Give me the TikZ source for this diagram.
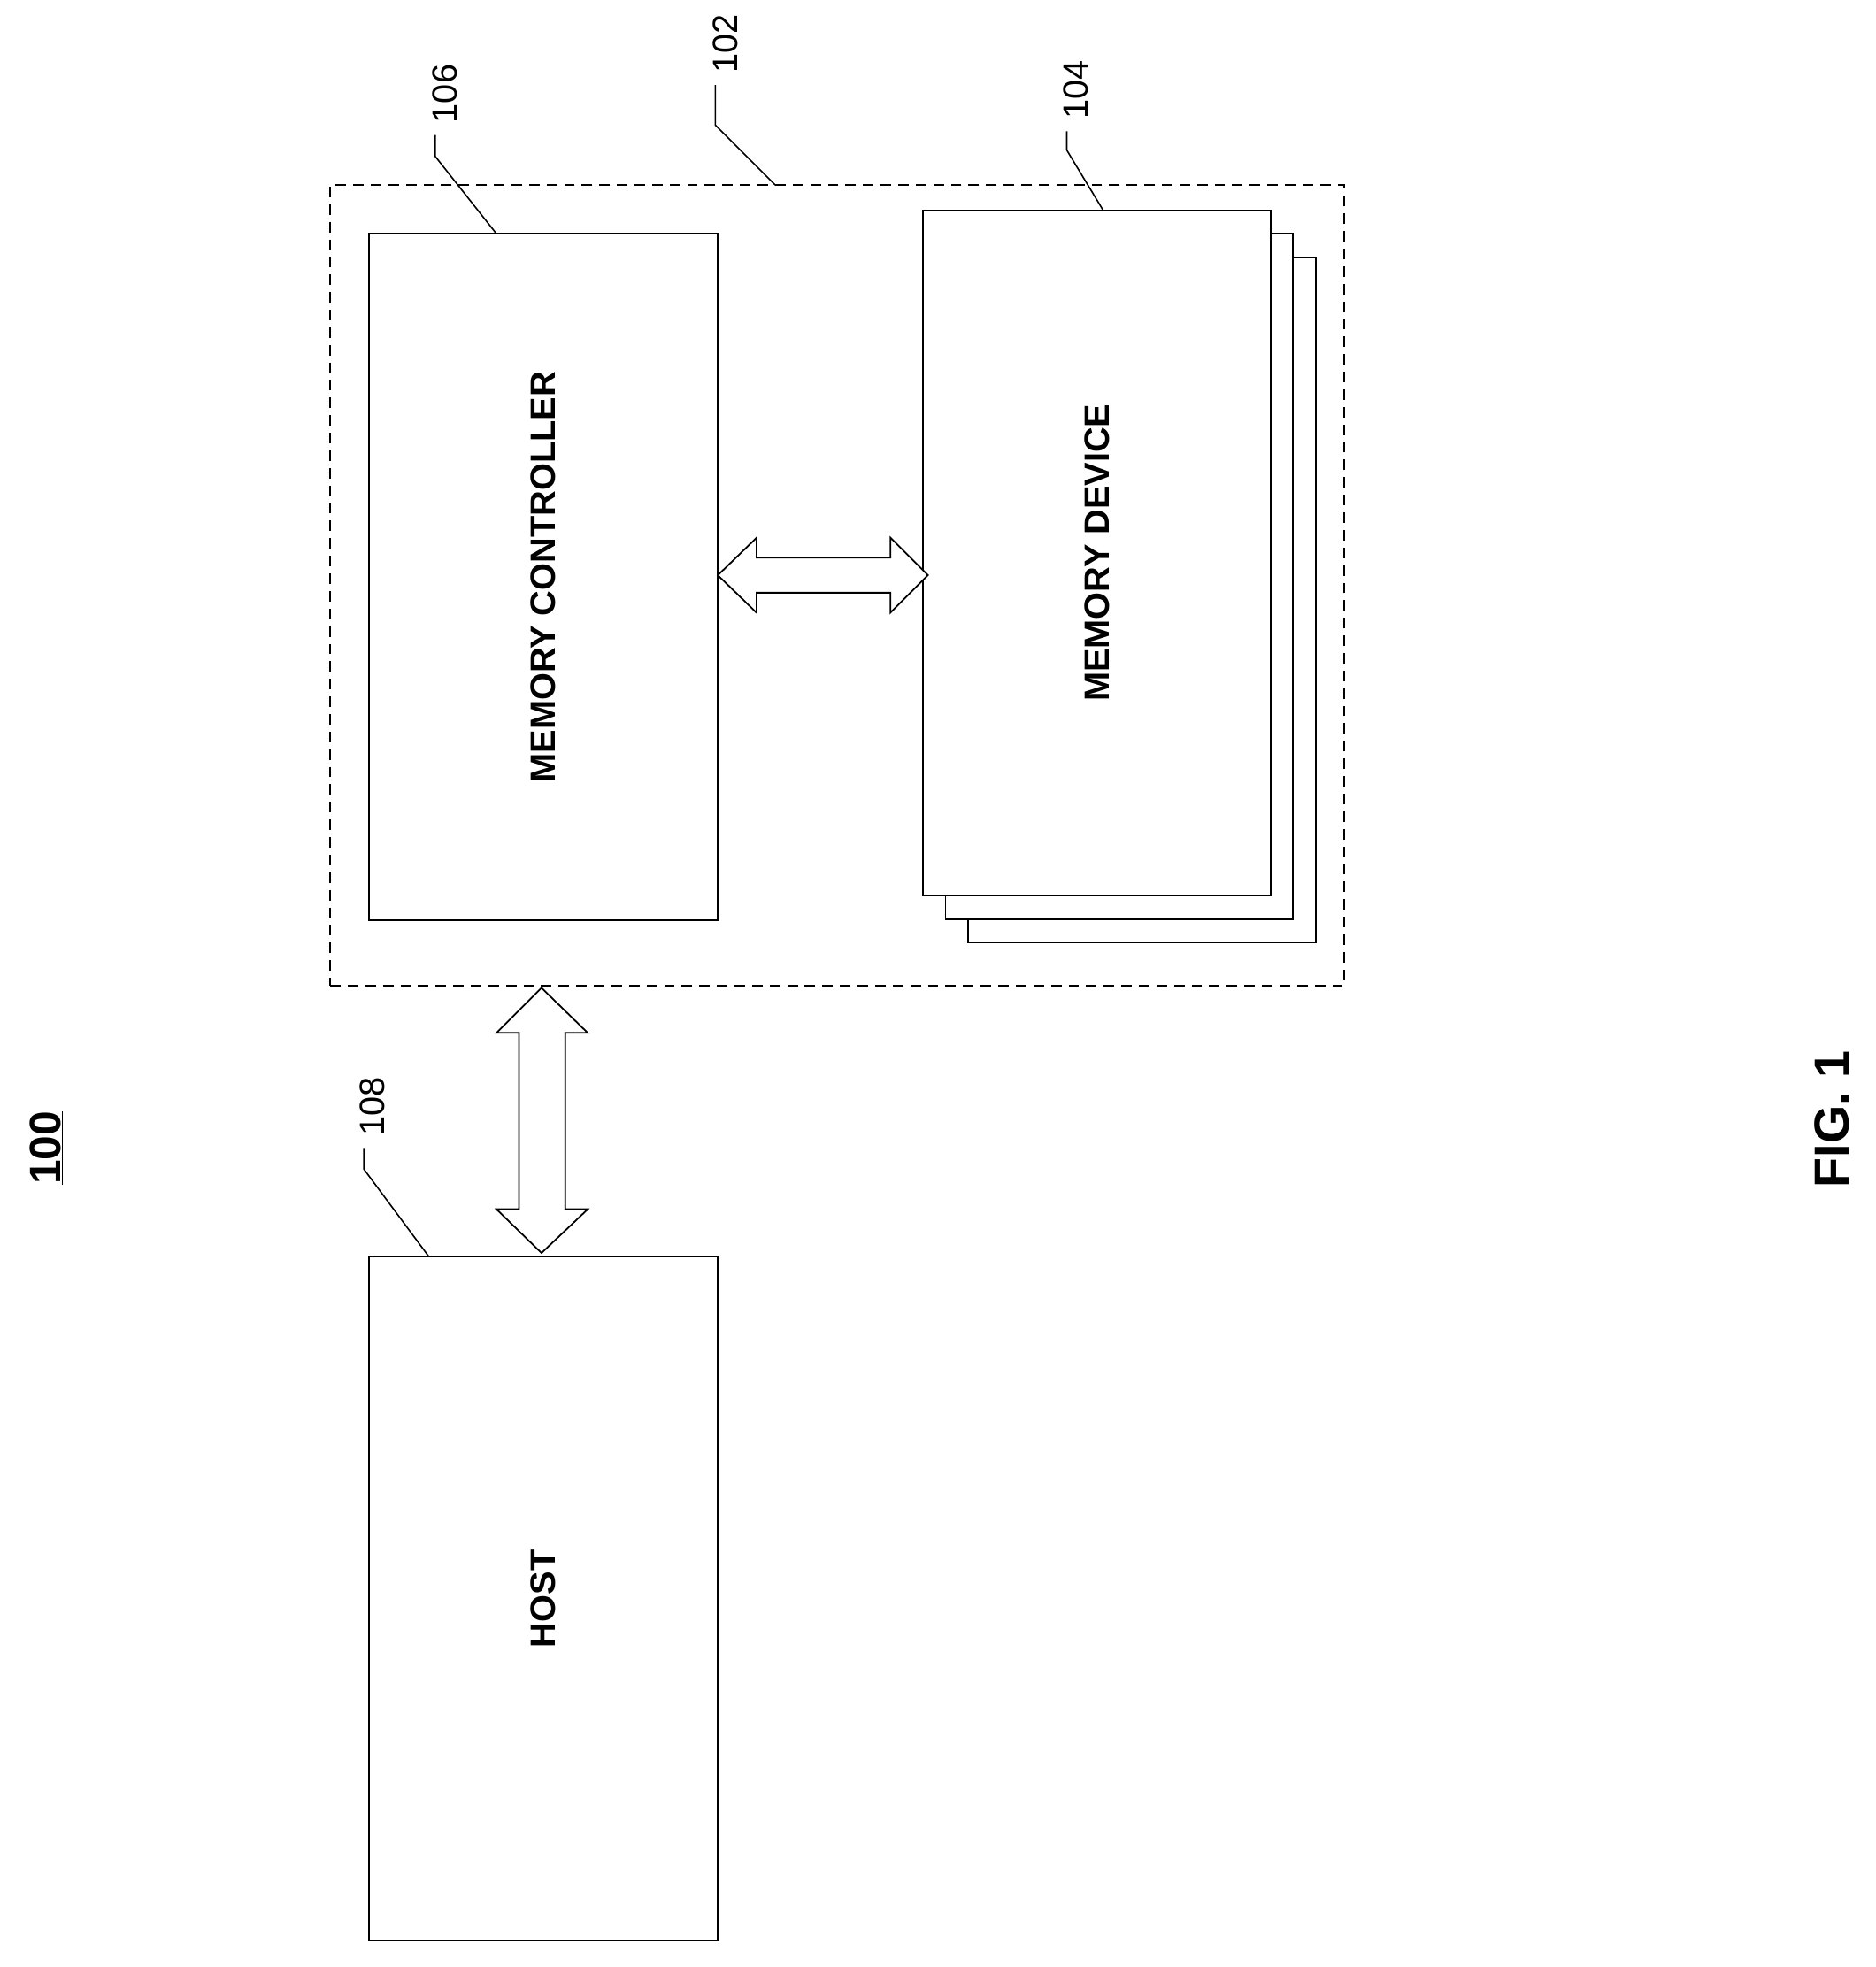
\documentclass[tikz,border=0pt]{standalone}
\usepackage{fontspec}
\setmainfont{Liberation Sans}
\usetikzlibrary{fit}
\begin{document}
\begin{tikzpicture}[x=0.05cm,y=-0.05cm,
  box/.style={draw,line width=1.8pt,inner sep=0pt,fill=white},
  lead/.style={line width=1.6pt},
  lbl/.style={rotate=90,font=\fontsize{40}{40}\selectfont},
  btxt/.style={rotate=90,font=\bfseries\fontsize{40}{40}\selectfont},
  arr/.style={draw,line width=1.8pt,fill=white,line join=miter}]
\useasboundingbox (0,0) rectangle (1500,1573);
\node[box,dash pattern=on 12pt off 8pt,fill=none,fit={(264,148)(1075,788)}] (sys) {};
\node[box,fit={(295,187)(574,736)}] (mc) {};
\node[btxt] at (mc.center) {MEMORY CONTROLLER};
\node[box,fit={(774,206)(1052,754)}] (md3) {};
\node[box,fit={(756,187)(1034,735)}] (md2) {};
\node[box,fit={(738,168)(1016,716)}] (md) {};
\node[btxt] at (md.center) {MEMORY DEVICE};
\node[box,fit={(295,1005)(574,1552)}] (host) {};
\node[btxt] at (host.center) {HOST};
% arrows
\draw[arr] (574,460) -- (605,430) -- (605,446) -- (712,446) -- (712,430) -- (742,460) -- (712,490) -- (712,474) -- (605,474) -- (605,490) -- cycle;
\draw[arr] (433,790) -- (470,826) -- (452,826) -- (452,967) -- (470,967) -- (433,1002) -- (397,967) -- (415,967) -- (415,826) -- (397,826) -- cycle;
% labels
\node[lbl] (l106) at (356,75) {106};
\draw[lead] (348,108) -- (348,125) -- (397,187);
\node[lbl] (l102) at (580,35) {102};
\draw[lead] (572,68) -- (572,100) -- (620,148);
\node[lbl] (l104) at (860,72) {104};
\draw[lead] (853,105) -- (853,120) -- (882,168);
\node[lbl] (l108) at (298,885) {108};
\draw[lead] (291,918) -- (291,935) -- (343,1005);
\node[rotate=90,font=\bfseries\fontsize{50}{50}\selectfont] at (37,918) {\underline{100}};
\node[rotate=90,font=\bfseries\fontsize{56}{56}\selectfont] at (1465,895) {FIG. 1};
\end{tikzpicture}
\end{document}
